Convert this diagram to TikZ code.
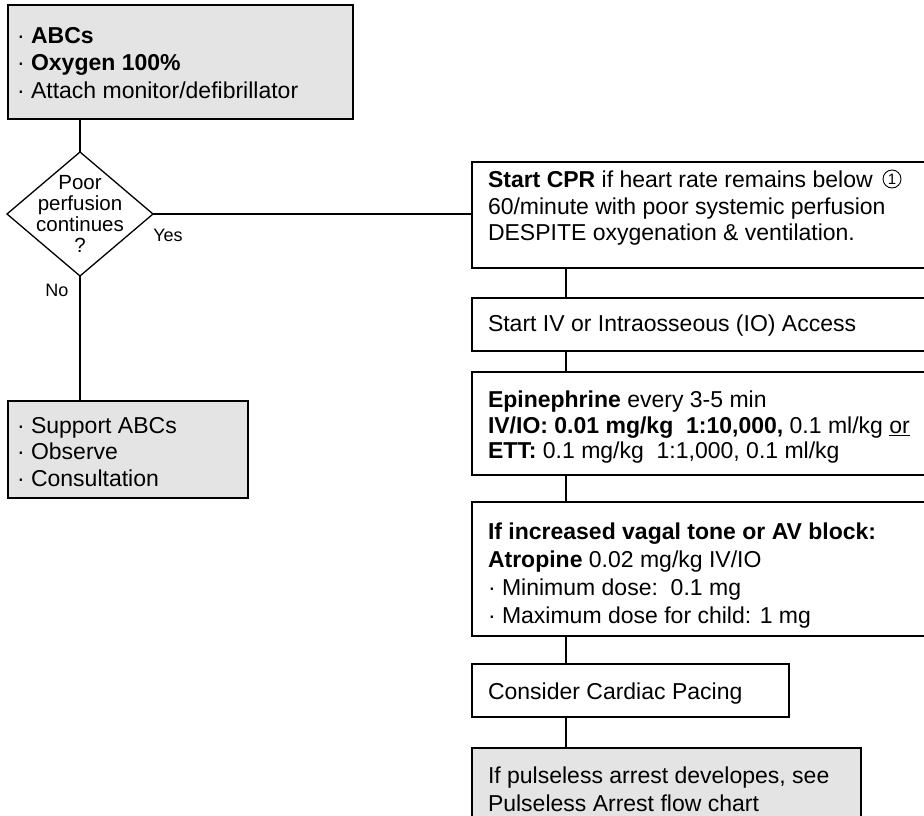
\documentclass[tikz,border=0pt]{standalone}
\usepackage{fontspec}
\setmainfont{Liberation Sans}
\usetikzlibrary{shapes.geometric}
\definecolor{boxgray}{RGB}{228,228,228}
\newcommand\fmain[1]{\fontsize{23}{#1}\selectfont}
\begin{document}
\begin{tikzpicture}[x=1pt,y=-1pt,
  boxw/.style={draw=black, line width=1.4pt, rectangle, anchor=north west, inner sep=0pt, outer sep=0pt},
  boxg/.style={boxw, fill=boxgray, line width=2.6pt},
  conn/.style={draw=black, line width=1.3pt},
  txt/.style={anchor=north west, align=left, inner sep=0pt, outer sep=0pt},
  lbl/.style={inner sep=0pt, font=\fontsize{18}{20}\selectfont}]
\useasboundingbox[fill=white] (0,0) rectangle (924,816);
% boxes
\node[boxg, minimum width=345pt, minimum height=114pt] (top) at (8,5) {};
\node[diamond, draw=black, line width=1.3pt, minimum width=146pt, minimum height=124pt, inner sep=0pt, outer sep=0pt] (dec) at (80,214) {};
\node[boxg, minimum width=240pt, minimum height=97pt] (lb) at (8,401) {};
\node[boxw, minimum width=460pt, minimum height=106pt] (cpr) at (472,162) {};
\node[boxw, minimum width=460pt, minimum height=53pt] (iv) at (472,298) {};
\node[boxw, minimum width=460pt, minimum height=103pt] (epi) at (472,372) {};
\node[boxw, minimum width=460pt, minimum height=134pt] (atr) at (472,502) {};
\node[boxw, minimum width=317pt, minimum height=53pt] (pace) at (472,664) {};
\node[boxg, minimum width=389pt, minimum height=90pt] (pul) at (472,748) {};
\coordinate (cx) at (566,0);
% connectors
\draw[conn] (dec.north |- top.south) -- (dec.north);
\draw[conn] (dec.south) -- (dec.south |- lb.north);
\draw[conn] (dec.east) -- (cpr.west |- dec.east);
\draw[conn] (cpr.south -| cx) -- (iv.north -| cx);
\draw[conn] (iv.south -| cx) -- (epi.north -| cx);
\draw[conn] (epi.south -| cx) -- (atr.north -| cx);
\draw[conn] (atr.south -| cx) -- (pace.north -| cx);
\draw[conn] (pace.south -| cx) -- (pul.north -| cx);
% texts
\node[txt, font=\fmain{27.5}] (ttop) at (17,27) {· \textbf{ABCs}\\· \textbf{Oxygen 100\%}\\· Attach monitor/defibrillator};
\node[align=center, inner sep=0pt, font=\fontsize{20.5}{21}\selectfont] (tdec) at (dec.center) {Poor\\perfusion\\continues\\?};
\node[lbl] (yes) at (168,235) {Yes};
\node[lbl] (no) at (57,290) {No};
\node[txt, font=\fmain{26.5}] (tlb) at (17,417) {· Support ABCs\\· Observe\\· Consultation};
\node[txt, font=\fmain{26.5}] (tcpr) at (488,171) {\textbf{Start CPR} if heart rate remains below\\60/minute with poor systemic perfusion\\DESPITE oxygenation \& ventilation.};
\node[circle, draw=black, line width=0.9pt, minimum size=18pt, inner sep=0pt, font=\fontsize{15}{15}\selectfont] (c1) at (892,179) {1};
\node[txt, font=\fmain{26}] (tiv) at (488,315) {Start IV or Intraosseous (IO) Access};
\node[txt, font=\fmain{25.5}] (tepi) at (488,391) {\textbf{Epinephrine} every 3-5 min\\\textbf{IV/IO: 0.01 mg/kg\ \ 1:10,000,} 0.1 ml/kg \underline{or}\\\textbf{ETT:} 0.1 mg/kg\ \ 1:1,000, 0.1 ml/kg};
\node[txt, font=\fmain{28}] (tatr) at (488,523) {\textbf{If increased vagal tone or AV block:}\\\textbf{Atropine} 0.02 mg/kg IV/IO\\· Minimum dose:\ \ 0.1 mg\\· Maximum dose for child: 1 mg};
\node[txt, font=\fmain{26}] (tpace) at (488,683) {Consider Cardiac Pacing};
\node[txt, font=\fmain{28}] (tpul) at (488,767) {If pulseless arrest developes, see\\Pulseless Arrest flow chart};
\end{tikzpicture}
\end{document}
